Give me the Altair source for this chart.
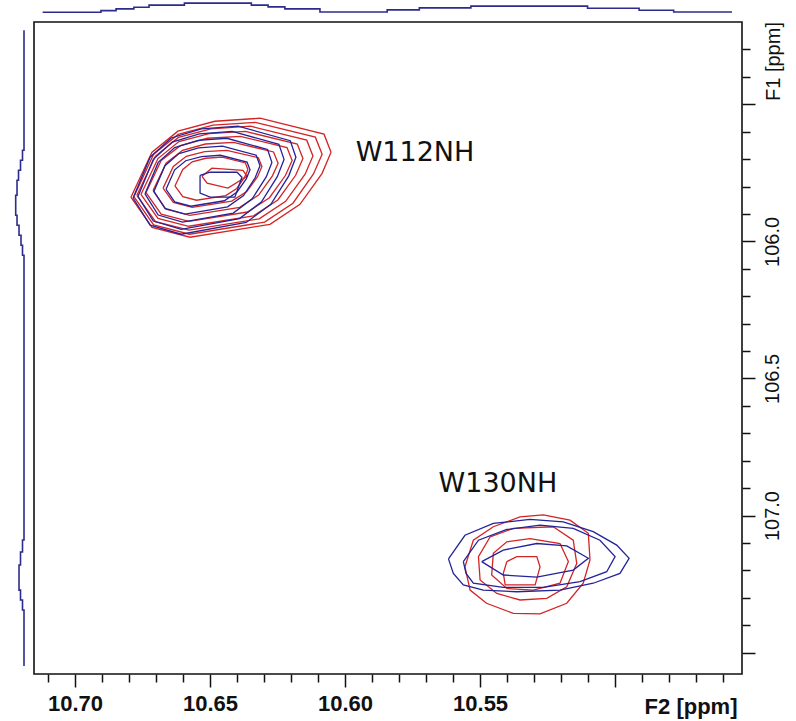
import altair as alt
import pandas as pd

# ---------------- data (ppm coordinates) ----------------
X_DOMAIN = [10.4530, 10.7152]          # F2 range shown
Y_DOMAIN = [105.200, 107.578]          # F1 range shown

X_TICKS = [10.71, 10.70, 10.69, 10.68, 10.67, 10.66, 10.65, 10.64, 10.63, 10.62,
           10.61, 10.60, 10.59, 10.58, 10.57, 10.56, 10.55, 10.54, 10.53, 10.52,
           10.51, 10.50, 10.49, 10.48, 10.47, 10.46]
Y_TICKS = [105.3, 105.4, 105.5, 105.6, 105.7, 105.8, 105.9, 106.0, 106.1, 106.2,
           106.3, 106.4, 106.5, 106.6, 106.7, 106.8, 106.9, 107.0, 107.1, 107.2,
           107.3, 107.4, 107.5]

# W112 NH cross peak, red spectrum contours (outer -> inner)
W112_RED = [
    [(10.6793, 105.839), (10.6715, 105.675), (10.6619, 105.598), (10.6482, 105.562), (10.6315, 105.551), (10.6078, 105.609),
     (10.6052, 105.675), (10.6085, 105.752), (10.6167, 105.865), (10.6278, 105.938), (10.6574, 105.985), (10.6715, 105.949)],
    [(10.6782, 105.837), (10.6709, 105.682), (10.6618, 105.610), (10.6489, 105.576), (10.6332, 105.566), (10.6110, 105.620),
     (10.6085, 105.682), (10.6117, 105.754), (10.6193, 105.861), (10.6298, 105.930), (10.6576, 105.974), (10.6709, 105.940)],
    [(10.6771, 105.832), (10.6702, 105.689), (10.6617, 105.621), (10.6497, 105.590), (10.6350, 105.580), (10.6142, 105.631),
     (10.6119, 105.689), (10.6148, 105.755), (10.6220, 105.854), (10.6318, 105.918), (10.6578, 105.959), (10.6702, 105.928)],
    [(10.6756, 105.829), (10.6693, 105.698), (10.6615, 105.636), (10.6504, 105.607), (10.6369, 105.599), (10.6177, 105.645),
     (10.6156, 105.698), (10.6183, 105.759), (10.6249, 105.849), (10.6339, 105.907), (10.6579, 105.945), (10.6693, 105.916)],
    [(10.6737, 105.822), (10.6681, 105.705), (10.6610, 105.651), (10.6510, 105.624), (10.6388, 105.617), (10.6215, 105.658),
     (10.6196, 105.705), (10.6221, 105.760), (10.6280, 105.841), (10.6361, 105.893), (10.6578, 105.927), (10.6681, 105.901)],
    [(10.6711, 105.815), (10.6663, 105.715), (10.6602, 105.668), (10.6517, 105.645), (10.6413, 105.639), (10.6265, 105.674),
     (10.6248, 105.715), (10.6269, 105.761), (10.6320, 105.831), (10.6390, 105.876), (10.6575, 105.905), (10.6663, 105.883)],
    [(10.6674, 105.806), (10.6636, 105.727), (10.6588, 105.690), (10.6520, 105.673), (10.6438, 105.668), (10.6321, 105.695),
     (10.6308, 105.727), (10.6324, 105.764), (10.6364, 105.818), (10.6420, 105.853), (10.6566, 105.876), (10.6636, 105.858)],
    [(10.6630, 105.798), (10.6601, 105.738), (10.6566, 105.710), (10.6516, 105.697), (10.6455, 105.693), (10.6369, 105.714),
     (10.6360, 105.738), (10.6372, 105.766), (10.6401, 105.807), (10.6442, 105.833), (10.6550, 105.850), (10.6601, 105.837)],
    [(10.6530, 105.763), (10.6493, 105.733), (10.6378, 105.741), (10.6363, 105.763), (10.6434, 105.806), (10.6511, 105.788)],
]

# W112 NH cross peak, blue spectrum contours
W112_BLUE = [
    [(10.6785, 105.842), (10.6722, 105.693), (10.6644, 105.623), (10.6532, 105.590), (10.6396, 105.580), (10.6203, 105.633),
     (10.6182, 105.693), (10.6209, 105.762), (10.6275, 105.865), (10.6366, 105.931), (10.6607, 105.974), (10.6722, 105.941)],
    [(10.6767, 105.836), (10.6710, 105.701), (10.6640, 105.638), (10.6540, 105.608), (10.6418, 105.599), (10.6245, 105.646),
     (10.6226, 105.701), (10.6251, 105.764), (10.6310, 105.857), (10.6391, 105.917), (10.6607, 105.956), (10.6710, 105.926)],
    [(10.6741, 105.827), (10.6692, 105.712), (10.6631, 105.658), (10.6544, 105.632), (10.6438, 105.624), (10.6287, 105.665),
     (10.6271, 105.712), (10.6292, 105.765), (10.6344, 105.845), (10.6414, 105.897), (10.6602, 105.930), (10.6692, 105.904)],
    [(10.6708, 105.818), (10.6667, 105.724), (10.6615, 105.680), (10.6543, 105.659), (10.6454, 105.653), (10.6329, 105.686),
     (10.6315, 105.724), (10.6333, 105.768), (10.6376, 105.833), (10.6435, 105.874), (10.6592, 105.901), (10.6667, 105.880)],
    [(10.6663, 105.810), (10.6631, 105.739), (10.6590, 105.706), (10.6532, 105.691), (10.6462, 105.686), (10.6363, 105.711),
     (10.6352, 105.739), (10.6366, 105.772), (10.6400, 105.820), (10.6447, 105.852), (10.6571, 105.872), (10.6631, 105.856)],
    [(10.6537, 105.759), (10.6500, 105.748), (10.6400, 105.748), (10.6382, 105.766), (10.6408, 105.839), (10.6500, 105.839),
     (10.6537, 105.824)],
]

# W130 NH cross peak, red spectrum contours
W130_RED = [
    [(10.5266, 106.998), (10.5167, 107.017), (10.5099, 107.065), (10.5093, 107.162), (10.5118, 107.247), (10.5179, 107.320),
     (10.5278, 107.359), (10.5377, 107.357), (10.5476, 107.320), (10.5537, 107.272), (10.5556, 107.187), (10.5525, 107.090),
     (10.5451, 107.041), (10.5352, 107.005)],
    [(10.5229, 107.041), (10.5155, 107.090), (10.5142, 107.175), (10.5179, 107.260), (10.5253, 107.302), (10.5352, 107.308),
     (10.5438, 107.284), (10.5500, 107.235), (10.5506, 107.150), (10.5463, 107.078), (10.5377, 107.047)],
    [(10.5315, 107.084), (10.5204, 107.102), (10.5173, 107.168), (10.5204, 107.247), (10.5303, 107.272), (10.5401, 107.266),
     (10.5457, 107.217), (10.5451, 107.138), (10.5401, 107.096)],
    [(10.5401, 107.168), (10.5364, 107.150), (10.5290, 107.150), (10.5278, 107.187), (10.5296, 107.253), (10.5407, 107.253),
     (10.5414, 107.211)],
]

# W130 NH cross peak, blue spectrum contours
W130_BLUE = [
    [(10.5617, 107.158), (10.5556, 107.072), (10.5451, 107.029), (10.5315, 107.014), (10.5192, 107.023), (10.5081, 107.059),
     (10.4994, 107.108), (10.4948, 107.156), (10.4982, 107.211), (10.5081, 107.247), (10.5204, 107.272), (10.5364, 107.278),
     (10.5488, 107.272), (10.5562, 107.253), (10.5599, 107.211)],
    [(10.5562, 107.168), (10.5506, 107.090), (10.5401, 107.051), (10.5278, 107.035), (10.5155, 107.047), (10.5056, 107.090),
     (10.5000, 107.150), (10.5031, 107.205), (10.5130, 107.241), (10.5266, 107.262), (10.5414, 107.262), (10.5525, 107.247),
     (10.5552, 107.211)],
    [(10.5494, 107.168), (10.5414, 107.126), (10.5290, 107.102), (10.5179, 107.111), (10.5099, 107.156), (10.5155, 107.199),
     (10.5290, 107.225), (10.5414, 107.217)],
]

# peak labels
PEAK_LABELS = ["W112NH", "W130NH"]
PEAK_LABEL_X = [10.5741, 10.5434]
PEAK_LABEL_Y = [105.679, 106.885]

# F2 (top) 1D projection: step edges (ppm) and step heights (a.u.)
TOP_EDGES = [10.7120, 10.6904, 10.6848, 10.6782, 10.6726, 10.6595, 10.6347, 10.6285, 10.6223,
             10.6093, 10.5844, 10.5725, 10.5534, 10.5102, 10.4911, 10.4783, 10.4567]
TOP_LEVELS = [0, 5, 10, 15, 21, 27, 21, 16, 10, 1, 7, 13, 18, 12, 6, 1]

# F1 (left) 1D projection: step edges (ppm) and step heights (a.u.)
LEFT_EDGES = [105.2303, 105.6677, 105.7042, 105.7406, 105.7771, 105.8318, 105.9047, 105.9412,
              105.9776, 106.0141, 106.0505, 107.0895, 107.1333, 107.1807, 107.2720, 107.3082,
              107.3447, 107.5488]
LEFT_LEVELS = [0, 4.5, 10.5, 16.5, 21, 25, 21, 15, 9, 4.5, 0, 4.5, 10.5, 15, 10.5, 4.5, 0]

RED = "#d42424"
BLUE = "#23239a"
TRACE = "#2c2c8c"

# ---------------- tables ----------------
def ring_table(rings, tag):
    rows = []
    for i, ring in enumerate(rings):
        pts = list(ring) + [ring[0]]
        for j, (x, y) in enumerate(pts):
            rows.append({"ring": f"{tag}{i}", "x": x, "y": y, "o": j})
    return rows

red_df = pd.DataFrame(ring_table(W112_RED, "r112_") + ring_table(W130_RED, "r130_"))
blue_df = pd.DataFrame(ring_table(W112_BLUE, "b112_") + ring_table(W130_BLUE, "b130_"))
lab_df = pd.DataFrame({"t": PEAK_LABELS, "x": PEAK_LABEL_X, "y": PEAK_LABEL_Y})

top_rows = [{"x": TOP_EDGES[i], "v": TOP_LEVELS[i], "o": i} for i in range(len(TOP_LEVELS))]
top_rows.append({"x": TOP_EDGES[-1], "v": TOP_LEVELS[-1], "o": len(TOP_LEVELS)})
top_df = pd.DataFrame(top_rows)

left_rows = [{"y": LEFT_EDGES[i], "v": LEFT_LEVELS[i], "o": i} for i in range(len(LEFT_LEVELS))]
left_rows.append({"y": LEFT_EDGES[-1], "v": LEFT_LEVELS[-1], "o": len(LEFT_LEVELS)})
left_df = pd.DataFrame(left_rows)

# ---------------- scales / axes ----------------
XS = alt.Scale(domain=X_DOMAIN, reverse=True, nice=False, zero=False)
YS = alt.Scale(domain=Y_DOMAIN, reverse=True, nice=False, zero=False)

x_axis = alt.Axis(
    values=X_TICKS, domain=False, grid=False,
    labelExpr="(round(datum.value*100) % 5 == 0 && round(datum.value*100) != 1050) ? format(datum.value, '.2f') : ''",
    labelFont="Liberation Sans", labelFontSize=22, labelFontWeight="bold", labelColor="#111",
    labelOverlap=False, labelFlush=False, labelPadding=6,
    tickColor="#111", tickWidth=1.5,
    tickSize={"condition": {"test": "round(datum.value*100) % 5 == 0", "value": 13}, "value": 8},
    title="F2 [ppm]", titleFont="Liberation Sans", titleFontSize=22, titleFontWeight="bold", titleColor="#111",
    titleAnchor="end", titleAlign="right", titleBaseline="top", titleX=703, titleY=22, titleAngle=0,
)
y_axis = alt.Axis(
    orient="right", values=Y_TICKS, domain=False, grid=False,
    labelExpr="(round(datum.value*10) % 5 == 0 && round(datum.value*10) >= 1060 && round(datum.value*10) <= 1070) ? format(datum.value, '.1f') : ''",
    labelFont="Liberation Sans", labelFontSize=20, labelColor="#111",
    labelAngle=270, labelAlign="center", labelBaseline="top",
    labelOverlap=False, labelFlush=False, labelPadding=7,
    tickColor="#111", tickWidth=1.5,
    tickSize={"condition": {"test": "round(datum.value*10) % 5 == 0", "value": 13}, "value": 8},
    title="F1 [ppm]", titleFont="Liberation Sans", titleFontSize=20, titleFontWeight="normal", titleColor="#111",
    titleAngle=270, titleAlign="center", titleBaseline="top", titleX=21, titleY=39,
)

red = alt.Chart(red_df).mark_line(color=RED, strokeWidth=1.3).encode(
    x=alt.X("x:Q", scale=XS, axis=x_axis),
    y=alt.Y("y:Q", scale=YS, axis=y_axis),
    detail="ring:N",
    order="o:Q",
)
blue = alt.Chart(blue_df).mark_line(color=BLUE, strokeWidth=1.3).encode(
    x=alt.X("x:Q", scale=XS, axis=None),
    y=alt.Y("y:Q", scale=YS, axis=None),
    detail="ring:N",
    order="o:Q",
)
labels = alt.Chart(lab_df).mark_text(font="DejaVu Sans", fontSize=27, color="#111").encode(
    x=alt.X("x:Q", scale=XS, axis=None),
    y=alt.Y("y:Q", scale=YS, axis=None),
    text="t:N",
)
top = alt.Chart(top_df).mark_line(color=TRACE, strokeWidth=1.6, interpolate="step-after").encode(
    x=alt.X("x:Q", scale=XS, axis=None),
    y=alt.Y("v:Q", scale=alt.Scale(domain=[0, 27], range=[-9.7, -18.9]), axis=None),
    order="o:Q",
)
left = alt.Chart(left_df).mark_line(color=TRACE, strokeWidth=1.6, interpolate="step-before").encode(
    x=alt.X("v:Q", scale=alt.Scale(domain=[0, 25], range=[-10, -18.3]), axis=None),
    y=alt.Y("y:Q", scale=YS, axis=None),
    order="o:Q",
)

chart = alt.layer(red, blue, labels, top, left).resolve_scale(
    x="independent", y="independent"
).properties(
    width=708, height=652,
    autosize=alt.AutoSizeParams(type="none"),
    padding={"left": 34, "top": 22, "right": 54, "bottom": 47},
    background="white",
).configure_view(stroke="#111", strokeWidth=1.6)

chart.save("out.html", embed_options={"renderer": "svg", "actions": False})
